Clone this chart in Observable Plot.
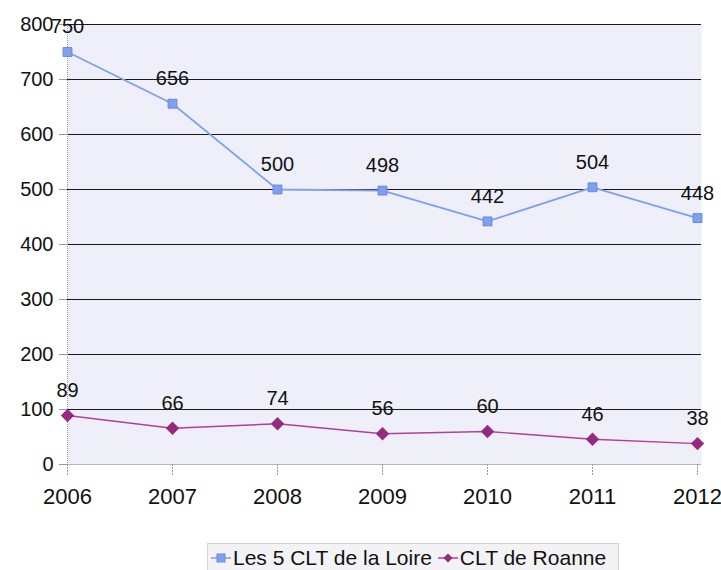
<!DOCTYPE html>
<html><head><meta charset="utf-8">
<script src="https://cdn.jsdelivr.net/npm/d3@7"></script>
<script src="https://cdn.jsdelivr.net/npm/@observablehq/plot@0.6"></script>
<style>
body{margin:0;background:#fff;font-family:"Liberation Sans",Arial,sans-serif;overflow:hidden;}
#legend{position:absolute;left:207px;top:543px;width:412px;height:34px;border:1px solid #d2d2d2;background:#f3f3f6;box-sizing:border-box;
display:flex;align-items:center;justify-content:flex-start;padding-left:3px;font-size:21px;color:#111;gap:6px;white-space:nowrap;padding-bottom:4px}
#legend span{display:inline-flex;align-items:center;gap:2px}
</style></head>
<body>
<div id="chart"></div>
<div id="legend"></div>
<script>
const years = [2006, 2007, 2008, 2009, 2010, 2011, 2012];
const clt5 = [750, 656, 500, 498, 442, 504, 448];
const roanne = [89, 66, 74, 56, 60, 46, 38];
const yTicks = [0, 100, 200, 300, 400, 500, 600, 700, 800];
const seriesNames = ["Les 5 CLT de la Loire", "CLT de Roanne"];

const blueData = years.map((y, i) => ({year: y, value: clt5[i]}));
const pinkData = years.map((y, i) => ({year: y, value: roanne[i]}));

const blue = "#7f9ff0", blueDark = "#6a88dc";
const pink = "#b0409a", pinkDark = "#952a80";

const chart = Plot.plot({
  width: 721, height: 530,
  marginTop: 24, marginBottom: 66, marginLeft: 67, marginRight: 24,
  style: {fontFamily: '"Liberation Sans", Arial, sans-serif', fontSize: "20px", color: "#111", background: "transparent"},
  x: {domain: [2006, 2012], label: null},
  y: {domain: [0, 800], label: null},
  marks: [
    Plot.frame({fill: "#efeff9", stroke: null, insetRight: -4}),
    Plot.ruleY(yTicks.filter(d => d > 0), {stroke: "#1a1a1a", strokeWidth: 1.2, insetRight: -4}),
    Plot.ruleY([0], {stroke: "#b5b5b5", strokeWidth: 1, insetRight: -4}),
    Plot.ruleX([2006], {stroke: "#999", strokeDasharray: "1,1"}),
    Plot.axisY({ticks: yTicks, tickSize: 8, tickPadding: 6, stroke: "#999", fontSize: 20, label: null}),
    Plot.axisX({ticks: years, tickFormat: d => String(d), tickSize: 11, tickPadding: 13, stroke: "#999", strokeDasharray: "2,1", fontSize: 22, label: null}),
    Plot.line(blueData, {x: "year", y: "value", stroke: blue, strokeWidth: 1.8}),
    Plot.dot(blueData, {x: "year", y: "value", symbol: "square", r: 5, fill: blue, stroke: blueDark, strokeWidth: 1}),
    Plot.line(pinkData, {x: "year", y: "value", stroke: pink, strokeWidth: 1.4}),
    Plot.dot(pinkData, {x: "year", y: "value", symbol: "square", rotate: 45, r: 4.5, fill: pinkDark, stroke: pinkDark}),
    Plot.text(blueData, {x: "year", y: "value", text: d => String(d.value), dy: -25, fontSize: 20, fill: "#111"}),
    Plot.text(pinkData, {x: "year", y: "value", text: d => String(d.value), dy: -25, fontSize: 20, fill: "#111"})
  ]
});
document.getElementById("chart").appendChild(chart);

const legend = document.getElementById("legend");
const swatches = [
  `<svg width="20" height="12"><line x1="0" y1="6" x2="20" y2="6" stroke="${blue}" stroke-width="1.5"/><rect x="6" y="2" width="8" height="8" fill="${blue}" stroke="${blueDark}"/></svg>`,
  `<svg width="20" height="12"><line x1="0" y1="6" x2="20" y2="6" stroke="${pink}" stroke-width="1.5"/><path d="M10 1.5 L14.5 6 L10 10.5 L5.5 6 Z" fill="${pinkDark}"/></svg>`
];
legend.innerHTML = seriesNames.map((n, i) => `<span>${swatches[i]}${n}</span>`).join("");
</script>
</body></html>
